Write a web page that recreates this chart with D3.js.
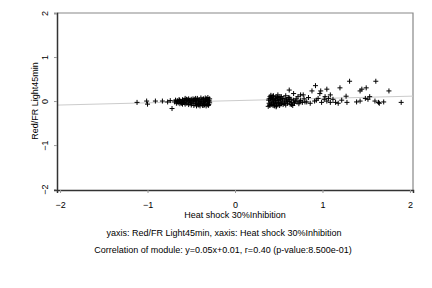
<!DOCTYPE html>
<html>
<head>
<meta charset="utf-8">
<script src="https://cdn.jsdelivr.net/npm/d3@7"></script>
<style>
  body { margin: 0; background: #fff; }
  text { font-family: "Liberation Sans", Arial, sans-serif; fill: #000; }
</style>
</head>
<body>
<svg id="chart" width="432" height="288"></svg>
<script>
// module data
const xTicks = [-2, -1, 0, 1, 2];
const yTicks = [-2, -1, 0, 1, 2];
const xLabel = "Heat shock 30%Inhibition";
const yLabel = "Red/FR Light45min";
const subtitle = "yaxis: Red/FR Light45min, xaxis: Heat shock 30%Inhibition";
const caption = "Correlation of module: y=0.05x+0.01, r=0.40 (p-value:8.500e-01)";
const fit = { slope: 0.05, intercept: 0.01 };

// left group, sparse points
const leftSparse = [
  [-1.12, -0.03], [-1.01, 0.0], [-1.0, -0.07], [-0.91, 0.0], [-0.83, 0.0],
  [-0.77, -0.02], [-0.74, 0.01], [-0.72, -0.17]
];
// left group, dense band
const leftDense = [
  [-0.69, -0.02], [-0.68, 0.02], [-0.67, -0.05], [-0.66, 0.01], [-0.65, -0.04],
  [-0.64, 0.03], [-0.63, -0.06], [-0.62, 0.0], [-0.61, -0.05], [-0.6, 0.03],
  [-0.59, -0.03], [-0.58, 0.02], [-0.57, 0.06], [-0.57, -0.07], [-0.56, 0.0],
  [-0.55, -0.05], [-0.54, 0.03], [-0.53, -0.08], [-0.52, 0.01], [-0.51, -0.04],
  [-0.5, 0.04], [-0.5, -0.09], [-0.49, -0.02], [-0.48, 0.05], [-0.47, -0.1],
  [-0.47, 0.0], [-0.46, 0.04], [-0.45, -0.06], [-0.44, 0.02], [-0.44, -0.11],
  [-0.43, 0.06], [-0.42, -0.04], [-0.42, -0.09], [-0.41, 0.03], [-0.4, -0.01],
  [-0.4, -0.11], [-0.39, 0.07], [-0.38, -0.06], [-0.38, 0.02], [-0.37, -0.1],
  [-0.36, 0.05], [-0.36, -0.03], [-0.35, -0.08], [-0.34, 0.01], [-0.34, 0.07],
  [-0.33, -0.05], [-0.33, -0.11], [-0.32, 0.03], [-0.31, -0.02], [-0.31, 0.08],
  [-0.3, -0.08], [-0.3, 0.02], [-0.29, -0.04], [-0.29, 0.05],
  [-0.655, -0.01], [-0.635, 0.02], [-0.615, -0.03], [-0.595, 0.0], [-0.575, -0.04],
  [-0.555, 0.04], [-0.535, -0.02], [-0.515, 0.02], [-0.495, -0.06], [-0.475, 0.02],
  [-0.455, -0.02], [-0.435, -0.07], [-0.415, 0.0], [-0.395, -0.05], [-0.375, 0.04],
  [-0.355, -0.1], [-0.345, -0.01], [-0.325, 0.05], [-0.315, -0.07], [-0.305, -0.1],
  [-0.295, 0.0], [-0.45, 0.06], [-0.41, -0.08], [-0.53, 0.05], [-0.6, -0.07]
];
// right group, dense band
const rightDense = [
  [0.38, -0.12], [0.39, 0.05], [0.39, -0.05], [0.4, 0.1], [0.4, -0.1],
  [0.41, 0.0], [0.42, 0.08], [0.42, -0.08], [0.43, 0.03], [0.44, -0.04],
  [0.44, 0.12], [0.45, -0.11], [0.46, 0.06], [0.46, -0.02], [0.47, 0.1],
  [0.48, -0.07], [0.48, 0.02], [0.49, 0.14], [0.5, -0.03], [0.5, 0.07],
  [0.51, -0.1], [0.52, 0.04], [0.53, -0.05], [0.53, 0.1], [0.54, 0.0],
  [0.55, -0.08], [0.56, 0.06], [0.57, -0.02], [0.58, 0.12], [0.58, -0.09],
  [0.59, 0.03], [0.6, -0.05], [0.61, 0.08], [0.62, -0.01], [0.62, 0.25],
  [0.63, -0.07], [0.64, 0.04], [0.65, -0.03], [0.66, -0.1], [0.67, 0.17],
  [0.67, 0.02], [0.68, -0.05], [0.7, 0.05], [0.71, -0.02], [0.72, 0.1],
  [0.73, -0.06], [0.75, 0.14], [0.75, 0.01], [0.77, -0.03], [0.78, 0.14],
  [0.79, 0.05], [0.8, -0.02],
  [0.385, 0.02], [0.395, -0.09], [0.405, 0.06], [0.415, -0.04], [0.425, 0.11],
  [0.435, -0.1], [0.445, 0.04], [0.455, -0.06], [0.465, 0.01], [0.475, -0.11],
  [0.485, 0.08], [0.495, -0.05], [0.505, 0.02], [0.515, 0.1], [0.525, -0.07],
  [0.545, 0.05], [0.565, -0.05], [0.585, 0.0], [0.605, 0.02], [0.625, 0.07],
  [0.645, -0.08], [0.69, 0.0], [0.74, -0.02], [0.41, 0.13], [0.47, -0.13]
];
// right group, sparse points
const rightSparse = [
  [0.82, -0.02], [0.84, 0.08], [0.86, -0.05], [0.88, 0.23], [0.91, 0.0],
  [0.92, 0.35], [0.93, 0.02], [0.95, 0.06], [0.97, 0.17], [0.98, 0.23],
  [0.99, -0.03], [1.02, 0.04], [1.03, 0.1], [1.05, 0.27], [1.05, 0.0],
  [1.07, 0.06], [1.09, 0.14], [1.09, -0.03], [1.12, 0.04], [1.15, -0.03],
  [1.18, -0.05], [1.2, 0.3], [1.22, 0.02], [1.27, 0.11], [1.28, -0.03],
  [1.31, 0.45], [1.39, -0.02], [1.43, 0.23], [1.43, 0.0], [1.45, 0.27],
  [1.49, 0.06], [1.5, 0.3], [1.52, 0.04], [1.54, 0.1], [1.6, 0.0],
  [1.61, 0.45], [1.64, -0.03], [1.65, -0.05], [1.7, -0.02], [1.76, 0.23],
  [1.9, -0.03]
];

const points = [...leftSparse, ...leftDense, ...rightDense, ...rightSparse];

const svg = d3.select("#chart");
const margin = { left: 57, right: 19, top: 13, bottom: 98 };
const width = 432 - margin.left - margin.right;
const height = 288 - margin.top - margin.bottom;

const x = d3.scaleLinear().domain([-2.035, 2.035]).range([0, width]);
const y = d3.scaleLinear().domain([-2.02, 2.0]).range([height, 0]);

const g = svg.append("g").attr("transform", `translate(${margin.left},${margin.top})`);

// frame: top and right in gray
g.append("path")
  .attr("d", `M0,0H${width}V${height}`)
  .attr("fill", "none")
  .attr("stroke", "#888")
  .attr("stroke-width", 1.2);

// regression line
g.append("line")
  .attr("x1", x(-2.035)).attr("y1", y(fit.slope * -2.035 + fit.intercept))
  .attr("x2", x(2.035)).attr("y2", y(fit.slope * 2.035 + fit.intercept))
  .attr("stroke", "#ccc")
  .attr("stroke-width", 1);

// points as plus markers
g.append("g")
  .selectAll("path")
  .data(points)
  .join("path")
  .attr("d", d => `M${x(d[0]) - 2.5},${y(d[1])}h5M${x(d[0])},${y(d[1]) - 2.5}v5`)
  .attr("stroke", "#000")
  .attr("stroke-width", 1);

// axes
const xAxis = d3.axisBottom(x).tickValues(xTicks).tickSize(3).tickPadding(9).tickFormat(d3.format("d"));
const gx = g.append("g")
  .attr("transform", `translate(0,${height})`)
  .call(xAxis);
gx.select(".domain").attr("stroke", "#333").attr("stroke-width", 1.5);
gx.selectAll(".tick line").attr("stroke", "#999");
gx.selectAll("text").attr("font-size", 9).attr("fill", "#000");

const yAxis = d3.axisLeft(y).tickValues(yTicks).tickSize(3).tickFormat(d3.format("d"));
const gy = g.append("g").call(yAxis);
gy.select(".domain").attr("stroke", "#333").attr("stroke-width", 1.5);
gy.selectAll(".tick line").attr("stroke", "#999");
gy.selectAll("text")
  .attr("font-size", 9)
  .attr("fill", "#000")
  .attr("x", null)
  .attr("dy", null)
  .attr("text-anchor", "middle")
  .attr("transform", "translate(-9,0) rotate(-90)");

// labels
svg.append("text")
  .attr("x", margin.left + x(0))
  .attr("y", 218)
  .attr("text-anchor", "middle")
  .attr("font-size", 9)
  .text(xLabel);

svg.append("text")
  .attr("transform", `translate(38,${margin.top + y(0)}) rotate(-90)`)
  .attr("text-anchor", "middle")
  .attr("font-size", 9)
  .text(yLabel);

// captions sit a little left of the plot centre
svg.append("text")
  .attr("x", 224)
  .attr("y", 236)
  .attr("text-anchor", "middle")
  .attr("font-size", 9)
  .text(subtitle);

svg.append("text")
  .attr("x", 223)
  .attr("y", 253)
  .attr("text-anchor", "middle")
  .attr("font-size", 9)
  .text(caption);
</script>
</body>
</html>
